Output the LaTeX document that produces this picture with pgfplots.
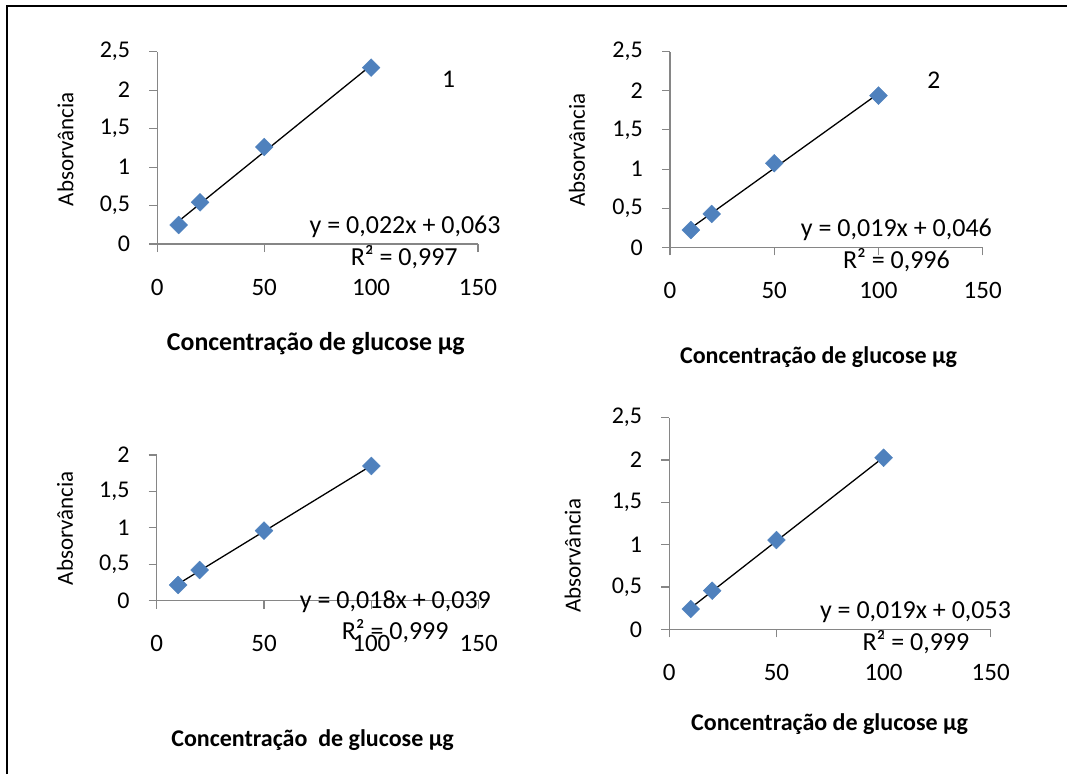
\documentclass[border=0pt]{standalone}
\usepackage{fontspec}
\setmainfont{Carlito}
\usepackage{pgfplots}
\pgfplotsset{compat=1.18}
\definecolor{markblue}{HTML}{4F81BD}
\definecolor{axisgray}{HTML}{868686}

% Excel-like look for all four panels
\pgfplotsset{
  excel/.style={
    scale only axis, anchor=south west, clip=false,
    axis lines=left,
    axis line style={-, axisgray, line width=1.1pt},
    every outer x axis line/.append style={-},
    every outer y axis line/.append style={-},
    tick align=outside, major tick length=8pt,
    major tick style={axisgray, line width=1.1pt},
    xmin=0, xmax=150, ymin=0, enlargelimits=false,
    xtick={0,50,100,150},
    /pgf/number format/use comma,
    /pgf/number format/1000 sep={},
    /pgf/number format/assume math mode=true,
    tick label style={inner sep=0pt},
    xticklabel style={font=\fontsize{25}{29}\selectfont, anchor=base, yshift=-43pt},
    yticklabel style={font=\fontsize{24}{28}\selectfont, anchor=east, xshift=-19pt},
    xlabel={Concentração de glucose µg},
    ylabel={Absorvância},
    xlabel style={font=\bfseries\fontsize{24}{28}\selectfont, anchor=base, inner sep=0pt},
    ylabel style={font=\fontsize{23}{27}\selectfont, anchor=base, inner sep=0pt},
  },
  pts/.style={only marks, mark=square*, mark size=6.3pt,
    mark options={rotate=45, fill=markblue, draw=markblue, line width=0.4pt}},
  fit/.style={black, line width=1.3pt, no markers},
}
\newcommand{\eqfont}{\fontsize{26}{30}\selectfont}

\begin{document}
\begin{tikzpicture}
\useasboundingbox (0,0) rectangle (1067pt,-774pt);
\draw[line width=1.8pt] (7pt,-774pt) -- (7pt,-6pt) -- (1067pt,-6pt);

% panel 1
\begin{axis}[excel, at={(157.3pt,-244pt)}, width=320.7pt, height=192.3pt,
  ymax=2.5, ytick={0,0.5,1,1.5,2,2.5},
  xlabel style={font=\bfseries\fontsize{25.8}{30}\selectfont, at={(axis description cs:0.4942,-0.5512)}},
  ylabel style={at={(axis description cs:-0.2619,0.4930)}}]
\addplot[fit] coordinates {(10,0.298) (100,2.323)};
\addplot[pts] coordinates {(10,0.247) (20,0.542) (50,1.261) (100,2.293)};
\node[font=\eqfont, anchor=base] at (axis cs:115.9,0.139) {y = 0,022x + 0,063};
\node[font=\eqfont, anchor=base] at (axis cs:115.5,-0.273) {R² = 0,997};
\node[font=\fontsize{25.5}{29}\selectfont, anchor=base] at (axis cs:136.2,2.037) {1};
\end{axis}

% panel 2
\begin{axis}[excel, at={(670pt,-247.3pt)}, width=312.7pt, height=195.6pt,
  ymax=2.5, ytick={0,0.5,1,1.5,2,2.5},
  xlabel style={at={(axis description cs:0.4749,-0.593)}},
  ylabel style={at={(axis description cs:-0.2725,0.4974)}}]
\addplot[fit] coordinates {(10,0.246) (100,1.966)};
\addplot[pts] coordinates {(10,0.221) (20,0.426) (50,1.074) (100,1.939)};
\node[font=\eqfont, anchor=base] at (axis cs:108.6,0.1355) {y = 0,019x + 0,046};
\node[font=\eqfont, anchor=base] at (axis cs:108.6,-0.268) {R² = 0,996};
\node[font=\fontsize{25.5}{29}\selectfont, anchor=base] at (axis cs:126.6,2.032) {2};
\end{axis}

% panel 3
\begin{axis}[excel, at={(156.7pt,-600.7pt)}, width=322pt, height=145.7pt,
  ymax=2, ytick={0,0.5,1,1.5,2},
  xlabel={Concentração\ \ de glucose µg},
  xlabel style={at={(axis description cs:0.4839,-1.002)}},
  ylabel style={at={(axis description cs:-0.26,0.4969)}}]
\addplot[fit] coordinates {(10,0.230) (100,1.855)};
\addplot[pts] coordinates {(10,0.216) (20,0.421) (50,0.962) (100,1.850)};
\node[font=\eqfont, anchor=base] at (axis cs:111.2,-0.104) {y = 0,018x + 0,039};
\node[font=\eqfont, anchor=base] at (axis cs:111.1,-0.539) {R² = 0,999};
\end{axis}

% panel 4
\begin{axis}[excel, at={(669.3pt,-629.3pt)}, width=321.4pt, height=211.6pt,
  ymax=2.5, ytick={0,0.5,1,1.5,2,2.5},
  xlabel style={at={(axis description cs:0.4988,-0.4759)}},
  ylabel style={at={(axis description cs:-0.2757,0.3474)}}]
\addplot[fit] coordinates {(10,0.252) (100,2.033)};
\addplot[pts] coordinates {(10,0.240) (20,0.456) (50,1.055) (100,2.027)};
\node[font=\eqfont, anchor=base] at (axis cs:114.9,0.13) {y = 0,019x + 0,053};
\node[font=\eqfont, anchor=base] at (axis cs:115.1,-0.2445) {R² = 0,999};
\end{axis}
\end{tikzpicture}
\end{document}
